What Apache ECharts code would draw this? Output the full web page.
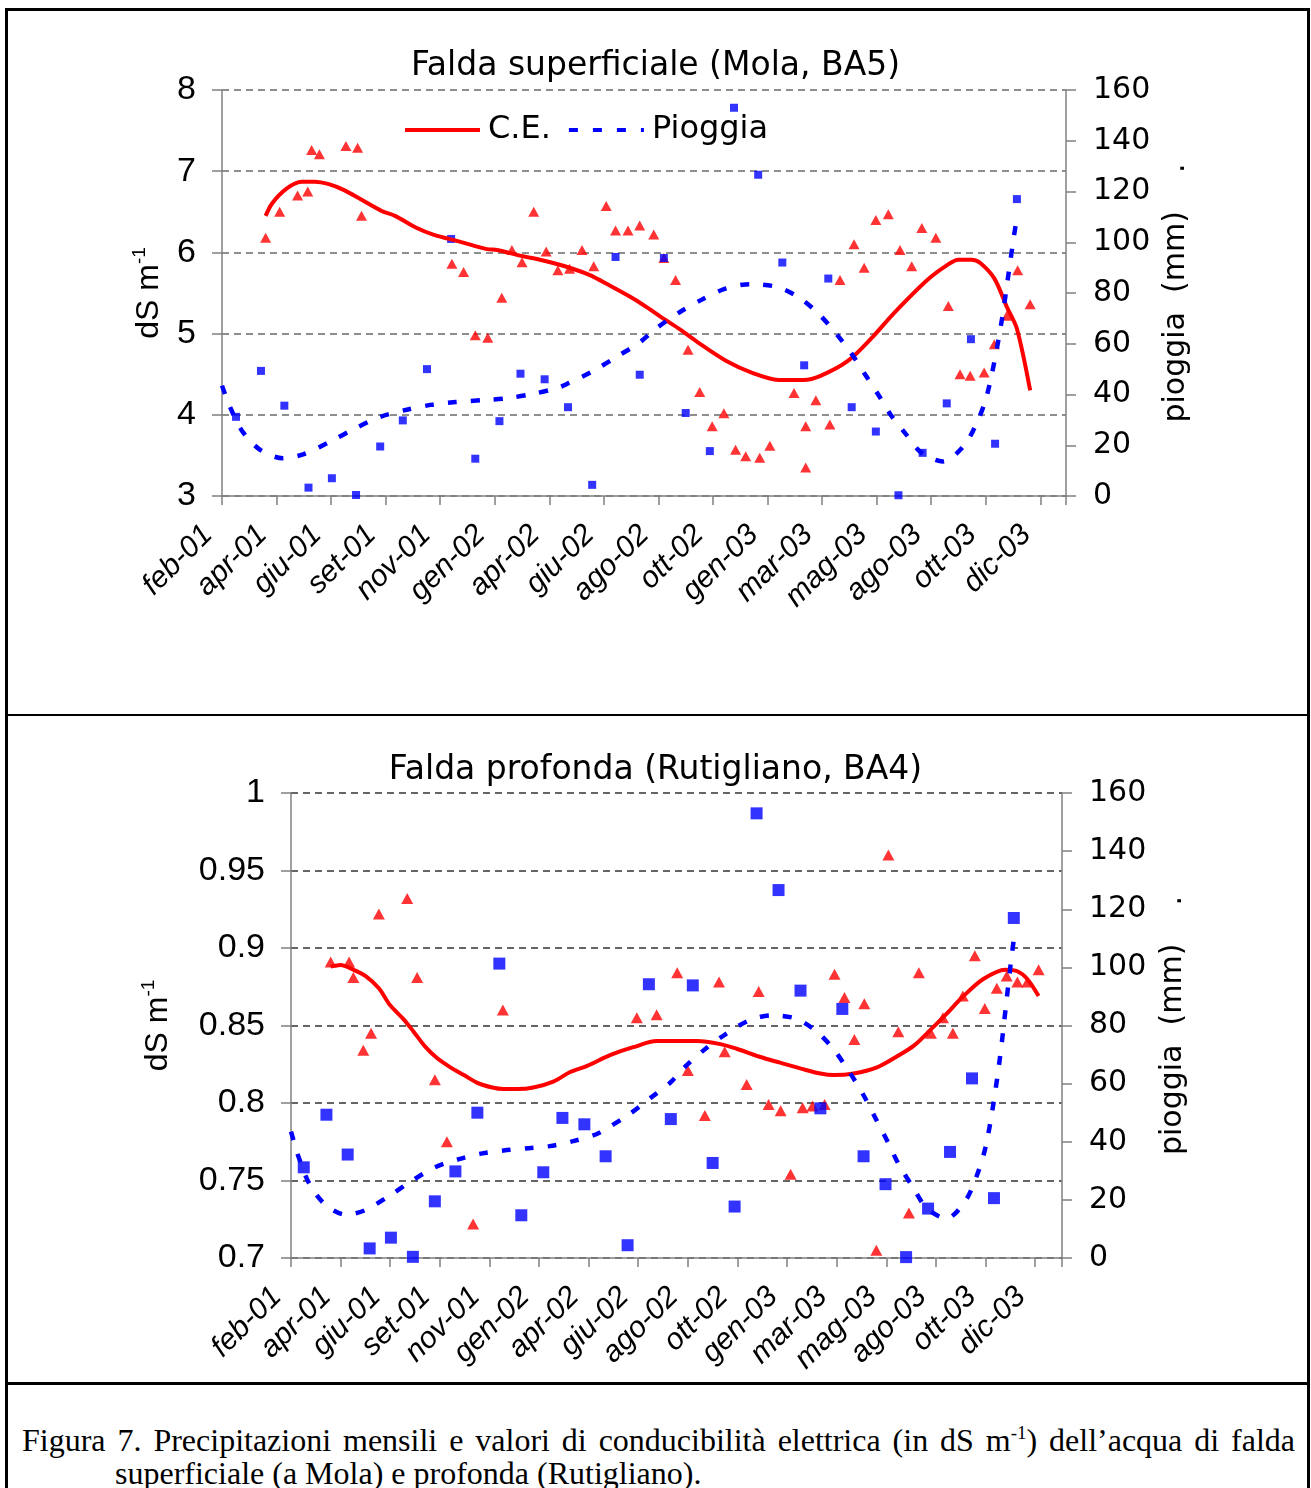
<!DOCTYPE html>
<html>
<head>
<meta charset="utf-8">
<title>Figura 7 - Precipitazioni e conducibilità elettrica</title>
<script src="https://cdn.jsdelivr.net/npm/echarts@6/dist/echarts.min.js"></script>
<style>
  html, body { margin: 0; padding: 0; background: #fff; }
  body { width: 1311px; height: 1488px; position: relative; overflow: hidden; }
  .frame { position: absolute; left: 5px; top: 8px; width: 1299px; height: 1500px; border: 3px solid #000; }
  .rule { position: absolute; left: 5px; width: 1305px; background: #000; }
  #chart { position: absolute; left: 0; top: 0; width: 1311px; height: 1380px; }
  .caption { position: absolute; font-family: 'Liberation Serif', 'Times New Roman', serif; font-size: 32px; line-height: 34px; color: #000; }
  .caption sup { font-size: 19px; vertical-align: 0; position: relative; top: -12px; }
  .cap1 { left: 22px; top: 1423px; width: 1273px; text-align: justify; text-align-last: justify; }
  .cap2 { left: 115px; top: 1456px; white-space: nowrap; }
</style>
</head>
<body>
<div class="frame"></div>
<div class="rule" style="top:714px;height:2px"></div>
<div class="rule" style="top:1382px;height:3px"></div>
<div id="chart"></div>
<div class="caption cap1">Figura 7. Precipitazioni mensili e valori di conducibilità elettrica (in dS m<sup>-1</sup>) dell’acqua di falda</div>
<div class="caption cap2">superficiale (a Mola) e profonda (Rutigliano).</div>
<script>
// Date axis: days counted from 5 Feb 2001, one labelled tick every 70 days
const TICK_DAYS = 70;
const xTickLabels = ['feb-01', 'apr-01', 'giu-01', 'set-01', 'nov-01', 'gen-02', 'apr-02', 'giu-02',
  'ago-02', 'ott-02', 'gen-03', 'mar-03', 'mag-03', 'ago-03', 'ott-03', 'dic-03'];

// Monthly rainfall (mm) – [day, mm]
const rainMonthly = [
  [18, 31.2], [50, 49.3], [80, 35.6], [111, 3.3], [141, 7.0], [172, 0.4], [203, 19.5], [232, 29.8],
  [263, 50.0], [294, 101.3], [325, 14.7], [356, 29.5], [383, 48.2], [414, 46.0], [444, 35.0], [475, 4.4],
  [505, 94.2], [536, 47.8], [567, 93.8], [595, 32.7], [626, 17.7], [657, 153.0], [688, 126.6], [719, 92.0],
  [747, 51.5], [778, 85.7], [808, 35.0], [839, 25.4], [868, 0.3], [899, 17.0], [930, 36.5], [961, 61.8],
  [992, 20.6], [1020, 117.0]
];

// Rainfall trend curve (mm) – [day, mm]
const rainTrend = [
  [0, 43.5], [10, 35.3], [26, 25.5], [49, 18.2], [78, 14.9], [105, 16.5], [140, 21.6], [170, 26.5],
  [203, 31.2], [237, 34.0], [270, 36.0], [300, 37.0], [335, 37.8], [365, 38.5], [398, 40.2], [430, 42.5],
  [445, 44.5], [476, 49.2], [507, 55.0], [535, 60.3], [557, 66.0], [585, 72.0], [612, 76.8], [645, 81.6],
  [678, 83.5], [712, 82.4], [740, 78.3], [765, 72.0], [788, 64.0], [808, 56.0], [825, 48.0], [842, 40.0],
  [858, 32.0], [876, 25.0], [897, 17.2], [925, 13.6], [952, 19.8], [968, 28.5], [980, 38.0], [991, 52.8],
  [1001, 70.0], [1009, 87.0], [1016, 102.0], [1021, 111.5]
];

// Mola (BA5) electrical conductivity, dS m-1 – [day, value]
const molaCE = [
  [56, 6.18], [74, 6.50], [97, 6.70], [110, 6.75], [115, 7.26], [125, 7.21], [159, 7.31], [174, 7.29],
  [179, 6.45], [295, 5.86], [310, 5.76], [325, 4.98], [341, 4.95], [359, 5.44], [372, 6.03], [385, 5.88],
  [400, 6.50], [416, 6.01], [431, 5.78], [446, 5.80], [462, 6.03], [477, 5.83], [493, 6.57], [505, 6.27],
  [521, 6.27], [536, 6.33], [554, 6.22], [567, 5.93], [582, 5.66], [598, 4.80], [613, 4.28], [629, 3.86],
  [644, 4.02], [659, 3.57], [672, 3.49], [690, 3.47], [703, 3.62], [734, 4.27], [749, 3.86], [749, 3.35],
  [762, 4.18], [780, 3.88], [793, 5.66], [811, 6.10], [824, 5.81], [839, 6.40], [855, 6.47], [870, 6.03],
  [885, 5.83], [898, 6.30], [916, 6.18], [932, 5.34], [947, 4.50], [960, 4.48], [978, 4.52], [991, 4.87],
  [1007, 5.22], [1021, 5.78], [1037, 5.36]
];
const molaCETrend = [
  [56, 6.45], [64, 6.60], [82, 6.78], [102, 6.87], [119, 6.87], [137, 6.84], [156, 6.77], [177, 6.66],
  [205, 6.51], [222, 6.45], [250, 6.30], [271, 6.22], [306, 6.13], [340, 6.04], [353, 6.03], [383, 5.96],
  [412, 5.90], [443, 5.82], [472, 5.72], [494, 5.61], [528, 5.43], [549, 5.30], [564, 5.20], [588, 5.05],
  [611, 4.89], [646, 4.67], [682, 4.51], [714, 4.43], [746, 4.43], [768, 4.48], [804, 4.67], [836, 4.97],
  [862, 5.25], [905, 5.66], [930, 5.84], [945, 5.91], [962, 5.91], [973, 5.87], [991, 5.68], [1007, 5.33],
  [1020, 5.06], [1037, 4.30]
];

// Rutigliano (BA4) electrical conductivity, dS m-1 – [day, value]
const rutiglianoCE = [
  [56, 0.891], [82, 0.891], [88, 0.881], [102, 0.834], [113, 0.845], [124, 0.922], [164, 0.932], [178, 0.881],
  [203, 0.815], [220, 0.775], [257, 0.722], [299, 0.860], [488, 0.855], [516, 0.857], [545, 0.884], [560, 0.821],
  [584, 0.792], [604, 0.878], [612, 0.833], [643, 0.812], [660, 0.872], [674, 0.799], [691, 0.795], [705, 0.754],
  [722, 0.797], [736, 0.798], [753, 0.799], [767, 0.883], [781, 0.868], [795, 0.841], [809, 0.864], [826, 0.705],
  [843, 0.960], [857, 0.846], [872, 0.729], [886, 0.884], [903, 0.845], [920, 0.855], [934, 0.845], [948, 0.869],
  [965, 0.895], [979, 0.861], [996, 0.874], [1010, 0.882], [1025, 0.878], [1039, 0.878], [1055, 0.886]
];
const rutiglianoCETrend = [
  [56, 0.888], [70, 0.889], [88, 0.886], [105, 0.882], [124, 0.874], [140, 0.863], [159, 0.854], [173, 0.846],
  [190, 0.836], [206, 0.829], [225, 0.823], [244, 0.818], [263, 0.813], [284, 0.810], [300, 0.809], [319, 0.809],
  [342, 0.810], [371, 0.814], [394, 0.820], [418, 0.824], [451, 0.831], [483, 0.836], [516, 0.840], [535, 0.840],
  [559, 0.840], [573, 0.840], [606, 0.838], [629, 0.835], [660, 0.830], [690, 0.826], [721, 0.822], [747, 0.819],
  [766, 0.818], [794, 0.819], [827, 0.823], [855, 0.830], [879, 0.837], [902, 0.847], [926, 0.858], [949, 0.869],
  [977, 0.880], [1008, 0.886], [1025, 0.885], [1039, 0.880], [1055, 0.869]
];

// Axis ranges: [min, max, interval]
const molaCERange = [3, 8, 1];
const rutiglianoCERange = [0.7, 1, 0.05];
const rainRange = [0, 160, 20];

const RED = '#ff0000';
const BLUE = '#0000ff';
const AXIS_GREY = '#808080';

// Legend keys: a solid bar for C.E., square dashes for Pioggia
const DASH_ICON = 'path://M0,0h9v4h-9zM24,0h9v4h-9zM48,0h9v4h-9zM72,0h3v4h-3z';

const panels = [
  {
    title: 'Falda superficiale (Mola, BA5)', titleTop: 50,
    grid: { left: 222, top: 90, width: 844, height: 406 },
    xMax: 1083, ceRange: molaCERange, ce: molaCE, ceTrend: molaCETrend,
    square: 8, triangle: [11, 10], gapLeft: 57, gapRight: 92,
    gridColor: '#6a6a6a'
  },
  {
    title: 'Falda profonda (Rutigliano, BA4)', titleTop: 754,
    grid: { left: 291, top: 793, width: 771, height: 465 },
    xMax: 1088, ceRange: rutiglianoCERange, ce: rutiglianoCE, ceTrend: rutiglianoCETrend,
    square: 12, triangle: [12, 11], gapLeft: 117, gapRight: 96,
    gridColor: '#333333'
  }
];

const option = {
  animation: false,
  backgroundColor: 'transparent',
  title: [],
  legend: {
    data: [{ name: 'C.E.', icon: 'rect' }, { name: 'Pioggia', icon: DASH_ICON }],
    left: 405, top: 114, padding: 0,
    itemWidth: 75, itemHeight: 4, itemGap: 18,
    textStyle: { fontFamily: 'DejaVu Sans', fontSize: 32, color: '#000', padding: [0, 0, 0, 3] }
  },
  grid: [], xAxis: [], yAxis: [], series: []
};

panels.forEach((p, i) => {
  option.title.push({
    text: p.title, left: 'center', top: p.titleTop, padding: 0,
    textStyle: { fontFamily: 'DejaVu Sans', fontSize: 33, fontWeight: 'normal', color: '#000' }
  });
  option.grid.push(Object.assign({ containLabel: false }, p.grid));

  option.xAxis.push({
    type: 'value', gridIndex: i, min: 0, max: p.xMax, interval: TICK_DAYS,
    axisLine: { lineStyle: { color: AXIS_GREY, width: 1.5 } },
    axisTick: { length: 9, lineStyle: { color: AXIS_GREY, width: 1.5 } },
    splitLine: { show: false },
    axisLabel: {
      rotate: 45, margin: 20, padding: [0, 20, 0, 0], showMinLabel: true, showMaxLabel: true,
      fontFamily: 'Liberation Sans', fontStyle: 'italic', fontSize: 30, color: '#000',
      formatter: v => {
        const k = Math.round(v / TICK_DAYS);
        return Math.abs(v - k * TICK_DAYS) < 1e-6 && k < xTickLabels.length ? xTickLabels[k] : '';
      }
    }
  });

  const [lo, hi, step] = p.ceRange;
  option.yAxis.push({
    type: 'value', gridIndex: i, position: 'left', min: lo, max: hi, interval: step,
    name: '{b|dS m}{s|-1}', nameLocation: 'middle', nameRotate: 90, nameGap: p.gapLeft,
    nameTextStyle: {
      rich: {
        b: { fontFamily: 'Liberation Sans', fontSize: 32, color: '#000', lineHeight: 35, verticalAlign: 'bottom' },
        s: { fontFamily: 'Liberation Sans', fontSize: 19, color: '#000', lineHeight: 35, verticalAlign: 'top' }
      }
    },
    axisLine: { show: true, lineStyle: { color: AXIS_GREY, width: 1.5 } },
    axisTick: { show: true, length: 10, lineStyle: { color: AXIS_GREY, width: 1.5 } },
    splitLine: { show: true, lineStyle: { color: p.gridColor, width: 1.5, type: [7, 5] } },
    axisLabel: {
      margin: 26, fontFamily: 'Liberation Sans', fontSize: 34, color: '#000',
      formatter: v => String(+v.toFixed(2))
    }
  });
  option.yAxis.push({
    type: 'value', gridIndex: i, position: 'right',
    min: rainRange[0], max: rainRange[1], interval: rainRange[2],
    name: 'pioggia  (mm)    .', nameLocation: 'middle', nameRotate: 90, nameGap: p.gapRight,
    nameTextStyle: { fontFamily: 'DejaVu Sans', fontSize: 30, color: '#000' },
    axisLine: { show: true, lineStyle: { color: AXIS_GREY, width: 1.5 } },
    axisTick: { show: true, length: 10, lineStyle: { color: AXIS_GREY, width: 1.5 } },
    splitLine: { show: false },
    axisLabel: { margin: 27, fontFamily: 'DejaVu Sans', fontSize: 30, color: '#000' }
  });

  const yCE = i * 2, yRain = i * 2 + 1;
  option.series.push(
    {
      name: 'C.E. misure', type: 'scatter', xAxisIndex: i, yAxisIndex: yCE, data: p.ce,
      symbol: 'triangle', symbolSize: p.triangle, itemStyle: { color: RED }, z: 2,
      emphasis: { disabled: true }
    },
    {
      name: 'Pioggia mensile', type: 'scatter', xAxisIndex: i, yAxisIndex: yRain, data: rainMonthly,
      symbol: 'rect', symbolSize: p.square, itemStyle: { color: BLUE }, z: 3,
      emphasis: { disabled: true }
    },
    {
      name: 'C.E.', type: 'line', xAxisIndex: i, yAxisIndex: yCE, data: p.ceTrend,
      smooth: 0.3, symbol: 'none', lineStyle: { color: RED, width: 4 }, itemStyle: { color: RED }, z: 4
    },
    {
      name: 'Pioggia', type: 'line', xAxisIndex: i, yAxisIndex: yRain, data: rainTrend,
      smooth: 0.3, symbol: 'none', lineStyle: { color: BLUE, width: 4.5, type: [9, 14], cap: 'butt' },
      itemStyle: { color: BLUE }, z: 4
    }
  );
});

const chart = echarts.init(document.getElementById('chart'), null, { renderer: 'canvas' });
chart.setOption(option);
</script>
</body>
</html>
